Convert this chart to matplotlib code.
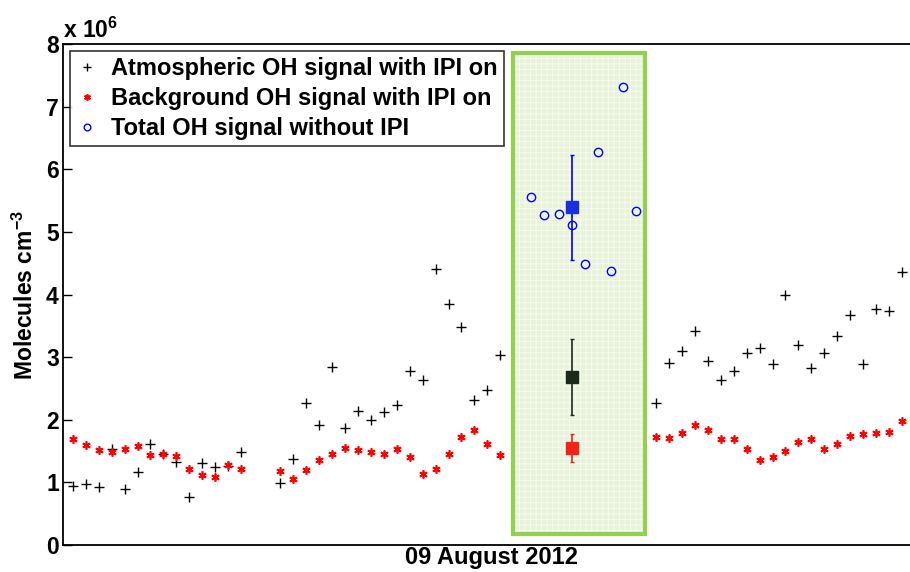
import numpy as np
import matplotlib.pyplot as plt
from matplotlib.patches import Rectangle

plt.rcParams['font.family'] = ['Liberation Sans', 'DejaVu Sans']
plt.rcParams['font.weight'] = 'bold'
plt.rcParams['mathtext.fontset'] = 'custom'
plt.rcParams['mathtext.bf'] = 'Liberation Sans:bold'
plt.rcParams['mathtext.rm'] = 'Liberation Sans:bold'
plt.rcParams['mathtext.default'] = 'bf'
plt.rcParams['hatch.linewidth'] = 0.6
plt.rcParams['ytick.direction'] = 'in'

# données (en 10^6 molecules cm-3), x = numero de mesure
x_gauche = np.arange(0, 34)
x_gauche = x_gauche[(x_gauche != 14) & (x_gauche != 15)]
x_droite = np.arange(45, 65)

atmo_gauche = [0.94, 0.98, 0.92, 1.54, 0.89, 1.16, 1.62, 1.46, 1.32, 0.77,
               1.31, 1.24, 1.26, 1.49, 0.99, 1.37, 2.26, 1.92, 2.85, 1.87,
               2.14, 1.99, 2.12, 2.23, 2.78, 2.64, 4.41, 3.85, 3.48, 2.32,
               2.48, 3.03]
fond_gauche = [1.69, 1.60, 1.52, 1.48, 1.54, 1.58, 1.44, 1.46, 1.42, 1.22,
               1.11, 1.09, 1.28, 1.22, 1.18, 1.06, 1.19, 1.36, 1.46, 1.55,
               1.52, 1.48, 1.46, 1.54, 1.40, 1.13, 1.21, 1.46, 1.73, 1.84,
               1.62, 1.43]
atmo_droite = [2.26, 2.91, 3.10, 3.41, 2.94, 2.63, 2.78, 3.07, 3.14, 2.89,
               3.99, 3.19, 2.83, 3.06, 3.34, 3.68, 2.89, 3.77, 3.73, 4.36]
fond_droite = [1.73, 1.71, 1.79, 1.92, 1.84, 1.69, 1.69, 1.53, 1.35, 1.41,
               1.50, 1.64, 1.70, 1.54, 1.62, 1.74, 1.77, 1.79, 1.80, 1.98]

# signal total sans IPI (dans le cadre vert)
x_total = [35.4, 36.4, 37.5, 38.5, 39.5, 40.5, 41.5, 42.5, 43.5]
total = [5.56, 5.27, 5.28, 5.11, 4.49, 6.27, 4.37, 7.31, 5.34]

# moyennes et ecarts types
x_moy = 38.5
moy_total, err_total = 5.39, 0.84
moy_atmo, err_atmo = 2.68, 0.61
moy_fond, err_fond = 1.55, 0.23

fig = plt.figure(figsize=(9.1, 5.72), dpi=100)
ax = fig.add_axes([63/910, 27/572, 857/910, 501/572])

# cadre vert
fond_vert = Rectangle((33.97, 0.18), 10.17, 7.68, facecolor='#e8f3da',
                      edgecolor='none', zorder=1)
grille = Rectangle((33.97, 0.18), 10.17, 7.68, facecolor='none',
                   edgecolor='#f7fbf1', hatch='+++', linewidth=0, zorder=1.1)
bord = Rectangle((33.97, 0.18), 10.17, 7.68, facecolor='none',
                 edgecolor='#92d050', linewidth=3, zorder=1.2)
ax.add_patch(fond_vert)
ax.add_patch(grille)
ax.add_patch(bord)

x_atmo = np.concatenate([x_gauche, x_droite])
atmo = atmo_gauche + atmo_droite
fond = fond_gauche + fond_droite

ax.plot(x_atmo, atmo, '+', color='black', markersize=7, markeredgewidth=1,
        label='Atmospheric OH signal with IPI on', zorder=3)
ax.plot(x_atmo, fond, linestyle='none', marker=(6, 2, 0), color='red',
        markersize=6, markeredgewidth=1.2,
        label='Background OH signal with IPI on', zorder=3)
ax.plot(x_total, total, 'o', markerfacecolor='none', markeredgecolor='blue',
        markersize=6, markeredgewidth=1, label='Total OH signal without IPI',
        zorder=3)

ax.errorbar(x_moy, moy_total, yerr=err_total, fmt='s', color='#1a30e0',
            ecolor='blue', markersize=9, elinewidth=1.2, capsize=1.5, zorder=4)
ax.errorbar(x_moy, moy_atmo, yerr=err_atmo, fmt='s', color='#1c2a1c',
            ecolor='#1c2a1c', markersize=9, elinewidth=1.2, capsize=1.5, zorder=4)
ax.errorbar(x_moy, moy_fond, yerr=err_fond, fmt='s', color='#f02418',
            ecolor='#f02418', markersize=9, elinewidth=1.2, capsize=1.5, zorder=4)

ax.set_xlim(-0.75, 65.38)
ax.set_ylim(0, 8)
ax.set_xticks([])
ax.set_yticks(range(0, 9))
ax.tick_params(axis='y', which='both', direction='in', length=6.5, width=1,
               labelsize=16.5, pad=3)
for s in ax.spines.values():
    s.set_linewidth(1.3)

ax.set_ylabel('Molecules cm$^{-3}$', fontsize=16.5, fontweight='bold', labelpad=6)
ax.set_xlabel('09 August 2012', fontsize=17, fontweight='bold', labelpad=1)
ax.text(0.0, 1.003, r'x 10$^{6}$', transform=ax.transAxes, fontsize=16.5,
        fontweight='bold', ha='left', va='bottom')

leg = ax.legend(loc='upper left', fontsize=17, frameon=True, fancybox=False,
                edgecolor='black', borderaxespad=0.3, handlelength=0.9,
                handletextpad=0.6, borderpad=0.25, labelspacing=0.3,
                markerscale=0.8)
leg.get_frame().set_linewidth(1.2)
leg.set_zorder(5)

plt.savefig('out.png', dpi=100)
